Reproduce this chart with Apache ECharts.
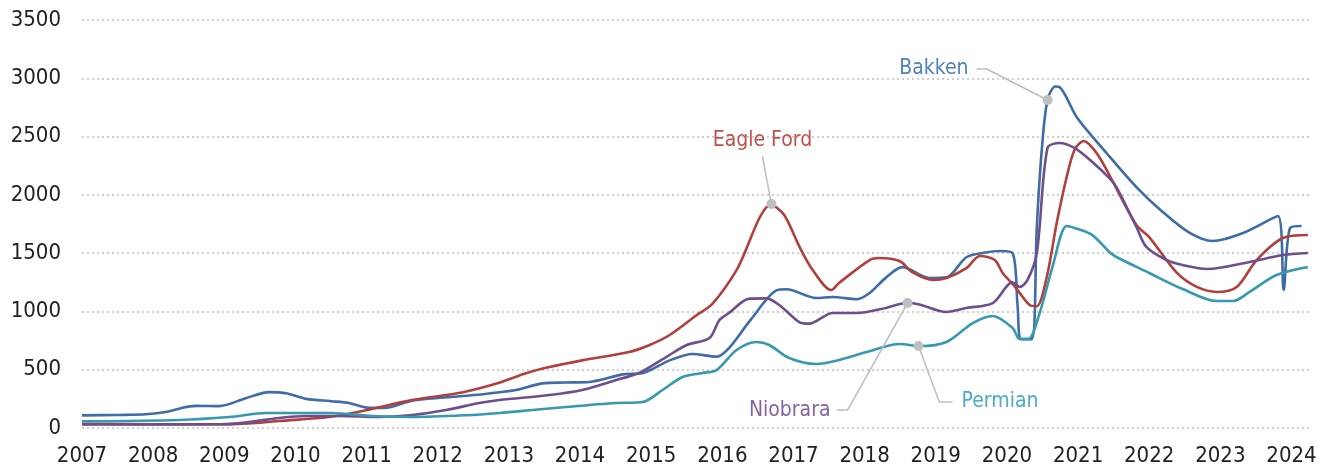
<!DOCTYPE html>
<html>
<head>
<meta charset="utf-8">
<script src="https://cdn.jsdelivr.net/npm/echarts@6/dist/echarts.min.js"></script>
<style>
    html, body { margin: 0; padding: 0; background: #fff; }
    #chart { width: 1328px; height: 471px; }
</style>
</head>
<body>
<div id="chart"></div>
<script>
    // [year, value]
    const bakken = [
        [2007, 108], [2007.5, 112], [2007.9, 118], [2008.2, 140], [2008.4, 172], [2008.6, 190],
        [2008.93, 188], [2009.3, 255], [2009.63, 308], [2009.87, 298], [2010.15, 250], [2010.5, 230],
        [2010.75, 215], [2011.0, 175], [2011.25, 172], [2011.64, 235], [2012.1, 262], [2012.63, 290],
        [2013.1, 326], [2013.47, 383], [2013.8, 390], [2014.13, 395], [2014.6, 460], [2014.9, 475],
        [2015.26, 580], [2015.58, 635], [2015.92, 612], [2016.1, 690], [2016.4, 930], [2016.76, 1180],
        [2016.9, 1190], [2017.32, 1115], [2017.55, 1124], [2017.89, 1105], [2018.07, 1158], [2018.3, 1290],
        [2018.53, 1380], [2018.91, 1287], [2019.15, 1292], [2019.43, 1465], [2019.7, 1505], [2019.9, 1518],
        [2020.08, 1500], [2020.15, 1050], [2020.2, 762], [2020.35, 762], [2020.42, 1724], [2020.49, 2385],
        [2020.57, 2814], [2020.68, 2930], [2020.74, 2925], [2020.99, 2659], [2021.4, 2359], [2021.82, 2067],
        [2022.19, 1853], [2022.57, 1673], [2022.89, 1604], [2023.32, 1673], [2023.81, 1819], [2023.89, 1184],
        [2023.98, 1716], [2024.14, 1733]
    ];
    const eagleFord = [
        [2007, 35], [2008, 32], [2008.93, 32], [2009.4, 42], [2009.77, 60], [2010.47, 94], [2010.94, 146],
        [2011.64, 240], [2012.34, 305], [2012.84, 383], [2013.24, 470], [2013.57, 523], [2014.03, 580],
        [2014.69, 652], [2014.97, 710], [2015.26, 798], [2015.64, 969], [2015.86, 1065], [2016.2, 1355],
        [2016.69, 1915], [2016.87, 1827], [2017.08, 1560], [2017.27, 1355], [2017.53, 1184], [2017.64, 1244],
        [2018.07, 1441], [2018.21, 1458], [2018.49, 1432], [2018.67, 1338], [2018.96, 1270], [2019.15, 1287],
        [2019.43, 1372], [2019.62, 1475], [2019.83, 1441], [2019.94, 1330], [2020.11, 1215], [2020.32, 1055],
        [2020.42, 1045], [2020.56, 1295], [2020.7, 1758], [2020.84, 2153], [2020.95, 2385], [2021.08, 2462],
        [2021.26, 2359], [2021.44, 2170], [2021.82, 1741], [2022.0, 1638], [2022.39, 1330], [2022.67, 1210],
        [2022.95, 1167], [2023.23, 1210], [2023.51, 1441], [2023.88, 1630], [2024.23, 1655]
    ];
    const niobrara = [
        [2007, 30], [2008, 30], [2009, 32], [2009.4, 55], [2009.77, 86], [2010.15, 103], [2010.6, 103],
        [2011.18, 94], [2011.64, 111], [2012.12, 154], [2012.58, 214], [2012.87, 240], [2013.57, 283],
        [2014.03, 326], [2014.51, 412], [2014.83, 472], [2015.21, 609], [2015.5, 712], [2015.82, 772],
        [2015.96, 926], [2016.1, 990], [2016.38, 1110], [2016.62, 1112], [2016.8, 1055], [2017.08, 909],
        [2017.22, 895], [2017.55, 986], [2017.89, 986], [2018.3, 1030], [2018.59, 1072], [2018.77, 1060],
        [2019.15, 995], [2019.43, 1029], [2019.8, 1072], [2020.08, 1250], [2020.18, 1210], [2020.29, 1270],
        [2020.42, 1501], [2020.57, 2402], [2020.74, 2445], [2020.95, 2402], [2021.2, 2282], [2021.44, 2144],
        [2021.54, 2067], [2021.82, 1724], [2021.96, 1553], [2022.24, 1441], [2022.47, 1398], [2022.82, 1364],
        [2023.41, 1424], [2023.88, 1484], [2024.23, 1501]
    ];
    const permian = [
        [2007, 58], [2008.36, 69], [2009.07, 94], [2009.59, 129], [2010.5, 129], [2011.08, 103],
        [2011.64, 95], [2012.4, 110], [2012.87, 129], [2013.33, 154], [2013.8, 180], [2014.51, 214],
        [2014.88, 223], [2015.16, 326], [2015.44, 437], [2015.72, 472], [2015.92, 497], [2016.2, 669],
        [2016.48, 738], [2016.66, 712], [2016.94, 600], [2017.32, 549], [2017.64, 583], [2018.03, 652],
        [2018.49, 721], [2018.77, 703], [2019.15, 738], [2019.52, 900], [2019.8, 961], [2020.08, 858],
        [2020.18, 763], [2020.3, 763], [2020.46, 986], [2020.64, 1381], [2020.84, 1733], [2020.95, 1716],
        [2021.2, 1655], [2021.44, 1510], [2021.54, 1467], [2022.0, 1330], [2022.47, 1192], [2022.95, 1089],
        [2023.18, 1089], [2023.41, 1167], [2023.79, 1312], [2024.23, 1381]
    ];

    const seriesNames = ['Bakken', 'Eagle Ford', 'Niobrara', 'Permian'];
    const lineColors = ['#3d6ca7', '#b13f3c', '#6d4f8e', '#3799b0'];
    const labelColors = ['#4f81bd', '#c0504d', '#8064a2', '#4bacc6'];

    // leader lines: dot on the series, bend, end near the label
    const callouts = [
        { name: 'Bakken', pts: [[2020.572, 2814], [2019.714, 3080], [2019.574, 3080]], pos: 'left', dist: 8 },
        { name: 'Eagle Ford', pts: [[2016.69, 1921], [2016.564, 2330]], pos: 'top', dist: 5 },
        { name: 'Niobrara', pts: [[2018.603, 1072], [2017.76, 154], [2017.605, 154]], pos: 'left', dist: 6 },
        { name: 'Permian', pts: [[2018.758, 703], [2019.05, 223], [2019.236, 223]], pos: 'right', dist: 9 }
    ];

    const font = "'Liberation Sans Narrow', 'Arial Narrow', 'DejaVu Sans Condensed', sans-serif";

    const dataSets = [bakken, eagleFord, niobrara, permian];
    const series = dataSets.map((d, i) => ({
        name: seriesNames[i],
        type: 'line',
        data: d,
        showSymbol: false,
        smooth: 0.3,
        lineStyle: { color: lineColors[i], width: 2.6 },
        z: 2
    }));

    callouts.forEach(c => {
        const idx = seriesNames.indexOf(c.name);
        series.push({
            type: 'line',
            silent: true,
            z: 3,
            lineStyle: { color: '#bfbfbf', width: 1.6 },
            itemStyle: { color: '#bfbfbf' },
            symbol: 'circle',
            symbolSize: 10,
            showSymbol: true,
            data: c.pts.map((p, k) => {
                const item = { value: p };
                if (k > 0) item.symbolSize = 0.01;
                if (k === c.pts.length - 1) {
                    item.label = {
                        show: true,
                        position: c.pos,
                        distance: c.dist,
                        formatter: c.name,
                        color: labelColors[idx],
                        fontSize: 21,
                        fontFamily: font
                    };
                }
                return item;
            })
        });
    });

    const option = {
        animation: false,
        grid: { left: 82, right: 18, top: 20, bottom: 43 },
        xAxis: {
            type: 'value',
            min: 2007,
            max: 2024.26,
            interval: 1,
            axisLine: { show: false },
            axisTick: { show: false },
            splitLine: { show: false },
            axisLabel: {
                color: '#222',
                fontSize: 22,
                fontFamily: font,
                margin: 17,
                formatter: v => (Number.isInteger(v) ? String(v) : '')
            }
        },
        yAxis: {
            type: 'value',
            min: 0,
            max: 3500,
            interval: 500,
            axisLine: { show: false },
            axisTick: { show: false },
            splitLine: { lineStyle: { color: '#cfcfcf', type: [2, 3], width: 2 } },
            axisLabel: {
                color: '#222',
                fontSize: 22,
                fontFamily: font,
                margin: 21,
                formatter: v => String(v)
            }
        },
        series: series
    };

    const chart = echarts.init(document.getElementById('chart'));
    chart.setOption(option);
</script>
</body>
</html>
